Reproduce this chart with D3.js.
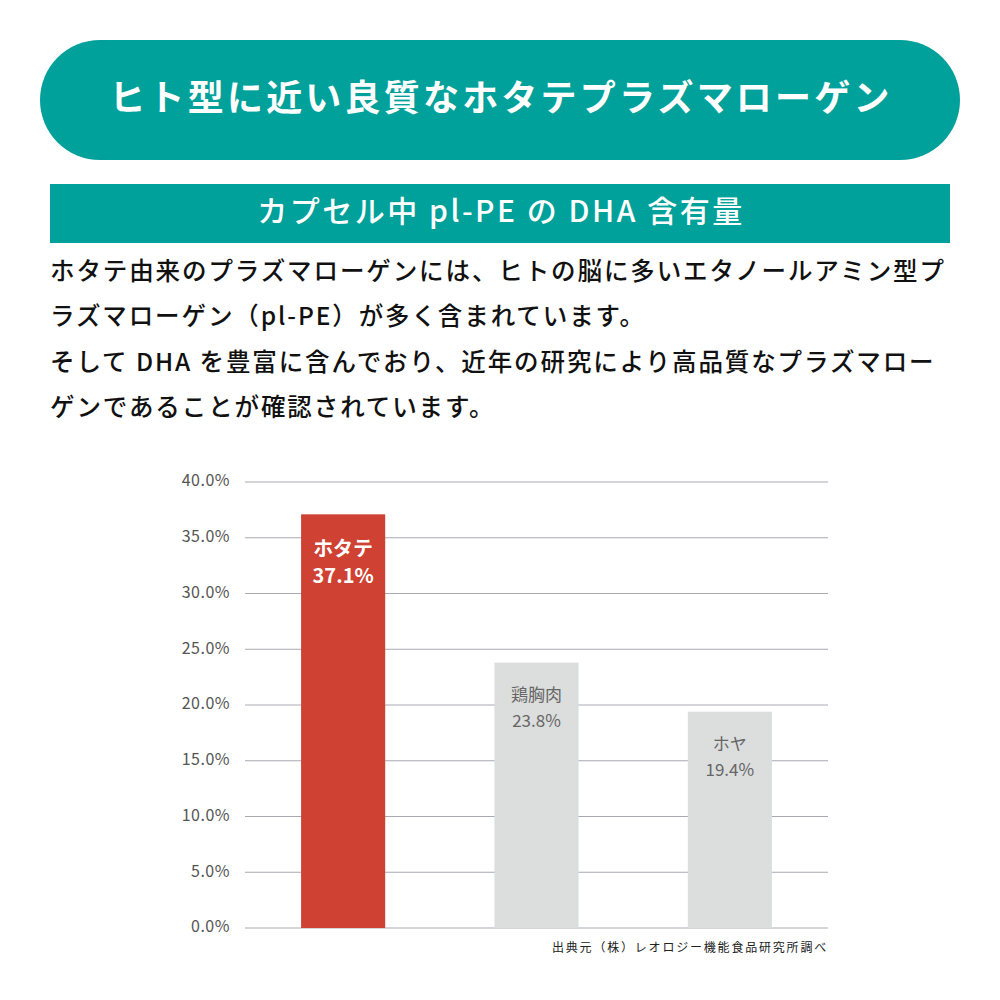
<!DOCTYPE html>
<html><head><meta charset="utf-8">
<script src="https://cdn.jsdelivr.net/npm/d3@7"></script>
<style>body{margin:0;background:#fff}</style>
</head><body>
<svg id="c" width="1000" height="1000"></svg>
<script>
const categories = ["ホタテ","鶏胸肉","ホヤ"];
const values = [37.1, 23.8, 19.4];
const barColors = ["#cf4132","#dcdddd","#dcdddd"];
const ticks = [0,5,10,15,20,25,30,35,40];
const title = "ヒト型に近い良質なホタテプラズマローゲン";
const subtitle = "カプセル中 pl-PE の DHA 含有量";
const paragraph = [
 "ホタテ由来のプラズマローゲンには、ヒトの脳に多いエタノールアミン型プ",
 "ラズマローゲン（pl-PE）が多く含まれています。",
 "そして DHA を豊富に含んでおり、近年の研究により高品質なプラズマロー",
 "ゲンであることが確認されています。"
];
const source = "出典元（株）レオロジー機能食品研究所調べ";
const teal = "#00a19a";
const F = "'Noto Sans CJK JP','Noto Sans',sans-serif";
const svg = d3.select("#c");
svg.append("rect").attr("x",40).attr("y",40).attr("width",920).attr("height",120).attr("rx",60).attr("fill",teal);
svg.append("text").attr("x",501).attr("y",101).attr("text-anchor","middle").attr("dominant-baseline","middle")
 .attr("fill","#fff").attr("font-family",F).attr("font-weight",700).attr("font-size",36).attr("letter-spacing",3.2).text(title);
svg.append("rect").attr("x",50).attr("y",184).attr("width",900).attr("height",59).attr("fill",teal);
svg.append("text").attr("x",501).attr("y",214).attr("text-anchor","middle").attr("dominant-baseline","middle")
 .attr("fill","#fff").attr("font-family",F).attr("font-weight",500).attr("font-size",30).attr("letter-spacing",2.5).text(subtitle);
paragraph.forEach((t,i)=>svg.append("text").attr("x",50).attr("y",273+i*45.5).attr("dominant-baseline","middle")
 .attr("fill","#111").attr("font-family",F).attr("font-weight",500).attr("font-size",24.5).attr("letter-spacing",1.9).text(t));

const y = d3.scaleLinear().domain([0,40]).range([928,482]);
const x = d3.scaleBand().domain(categories).range([245,828]).paddingInner(0.565).paddingOuter(0.29);
const g = svg.append("g");
g.selectAll("line.grid").data(ticks).join("line").attr("x1",245).attr("x2",828)
 .attr("y1",d=>y(d)).attr("y2",d=>y(d)).attr("stroke","#a9a9b4").attr("stroke-width",1);
g.selectAll("text.tick").data(ticks).join("text").attr("x",230).attr("y",d=>y(d)).attr("text-anchor","end")
 .attr("dominant-baseline","middle").attr("fill","#555").attr("font-family",F).attr("font-size",16).attr("letter-spacing",0.5).text(d=>d.toFixed(1)+"%");
g.selectAll("rect.bar").data(values).join("rect").attr("x",(d,i)=>x(categories[i])).attr("width",x.bandwidth())
 .attr("y",d=>y(d)).attr("height",d=>y(0)-y(d)).attr("fill",(d,i)=>barColors[i]);
values.forEach((v,i)=>{
 const cx = x(categories[i])+x.bandwidth()/2;
 const first = i===0;
 const col = first?"#fff":"#666";
 const fs = first?20:17;
 const fw = first?700:400;
 const off1 = first?36:34, off2 = first?63:60;
 g.append("text").attr("x",cx).attr("y",y(v)+off1).attr("text-anchor","middle").attr("dominant-baseline","middle")
  .attr("fill",col).attr("font-family",F).attr("font-weight",fw).attr("font-size",fs).text(categories[i]);
 g.append("text").attr("x",cx).attr("y",y(v)+off2).attr("text-anchor","middle").attr("dominant-baseline","middle")
  .attr("fill",col).attr("font-family",F).attr("font-weight",fw).attr("font-size",fs).text(v.toFixed(1)+"%");
});
svg.append("text").attr("x",828).attr("y",949).attr("text-anchor","end").attr("dominant-baseline","middle")
 .attr("fill","#222").attr("font-family",F).attr("font-size",12).attr("letter-spacing",1.8).text(source);
</script>
</body></html>
